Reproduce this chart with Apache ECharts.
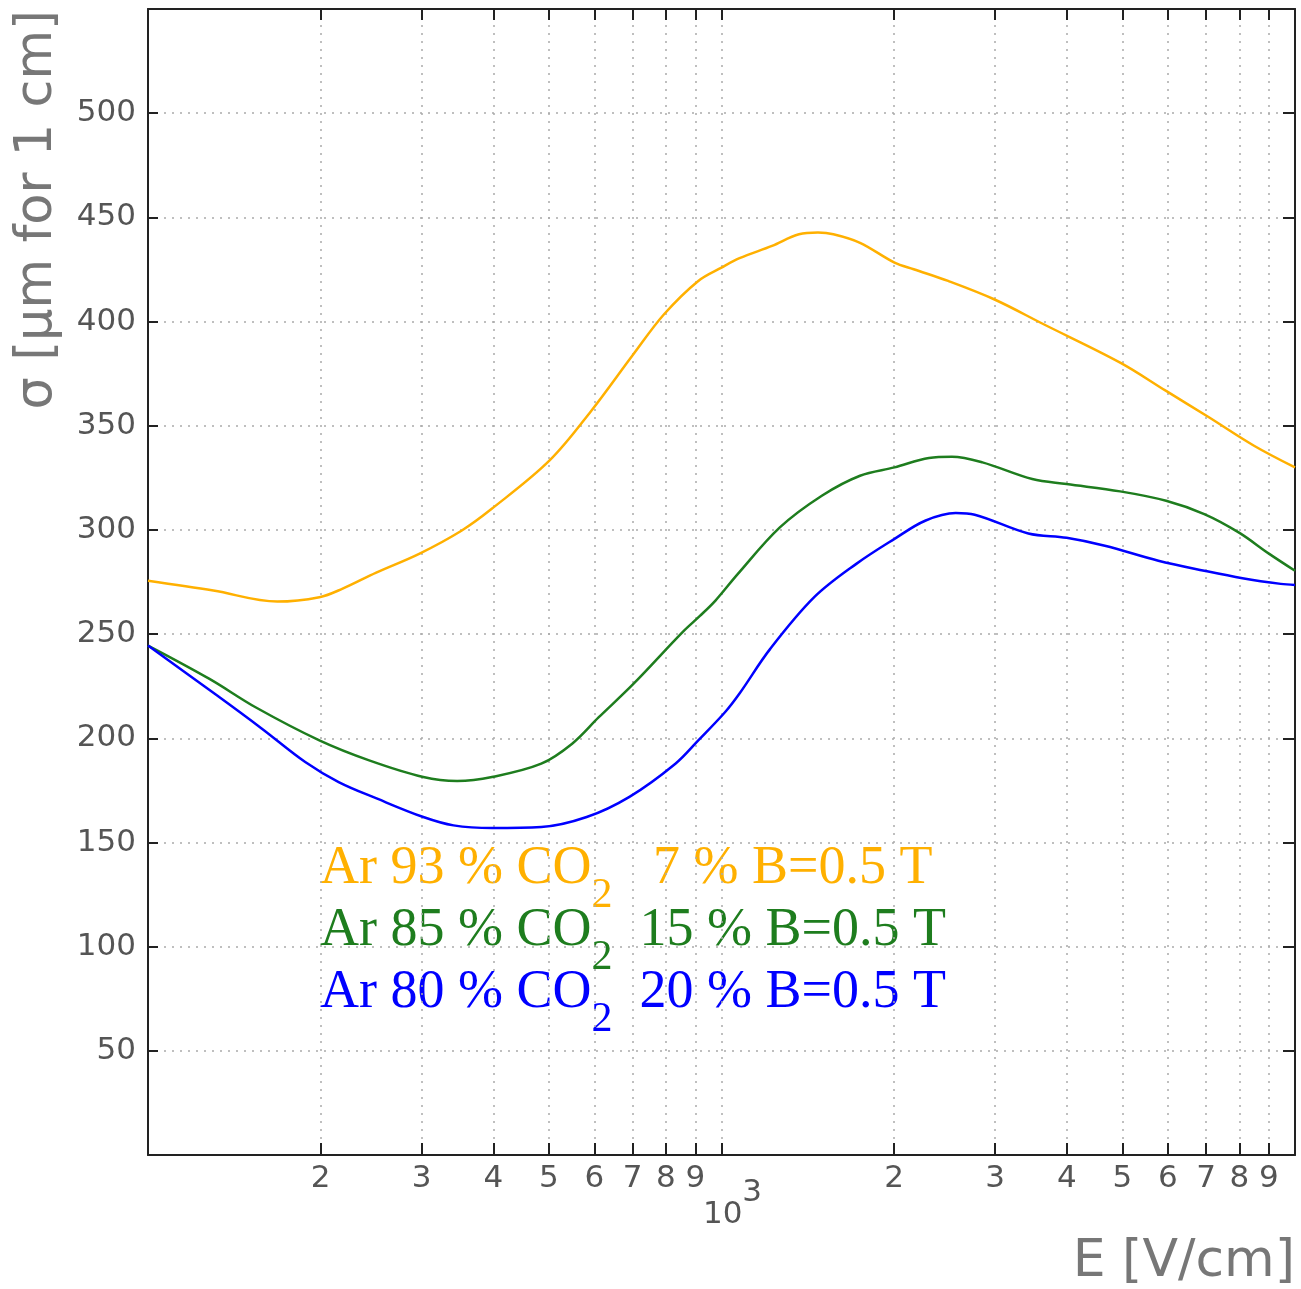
<!DOCTYPE html>
<html>
<head>
<meta charset="utf-8">
<script src="https://cdn.jsdelivr.net/npm/echarts@6/dist/echarts.min.js"></script>
<style>
  html, body { margin: 0; padding: 0; background: #fff; }
  #chart { width: 1301px; height: 1289px; }
</style>
</head>
<body>
<div id="chart"></div>
<script>
// field strength E [V/cm] and sigma [um for 1 cm]
const E_AR93 = [100, 130, 168, 199, 218, 250, 297, 352, 397, 501, 593, 702, 794, 911, 1000, 1075, 1225, 1365, 1473, 1567, 1744, 2003, 2163, 2484, 2987, 3645, 4956, 5960, 7055, 8483, 10000]
const S_AR93 = [275.6, 270.9, 265.6, 267.7, 271.7, 279.5, 288.5, 299.6, 310.0, 333.2, 357.2, 384.3, 403.5, 419.5, 425.9, 430.4, 436.3, 441.9, 442.7, 441.9, 437.8, 428.3, 425.1, 419.5, 410.7, 398.7, 380.3, 366.7, 354.3, 340.4, 330.0]

const E_AR85 = [100, 128, 154, 199, 243, 302, 346, 398, 485, 549, 611, 702, 857, 916, 976, 1068, 1264, 1496, 1744, 2003, 2300, 2522, 2851, 3482, 3997, 4956, 5960, 6947, 7975, 9018, 10000]
const S_AR85 = [244.5, 228.5, 214.9, 199.0, 189.4, 181.4, 179.5, 181.4, 187.8, 197.4, 210.1, 226.1, 251.2, 258.6, 266.1, 278.9, 301.2, 316.4, 326.0, 330.0, 334.5, 335.1, 332.4, 324.4, 322.0, 318.5, 314.0, 307.6, 298.8, 288.5, 280.4]

const E_AR80 = [100, 132, 158, 188, 215, 251, 302, 341, 398, 485, 582, 691, 831, 911, 1014, 1075, 1216, 1451, 1718, 2003, 2265, 2561, 2764, 3428, 3997, 4661, 5777, 6947, 8099, 9443, 10000]
const S_AR80 = [244.5, 220.5, 204.6, 188.6, 179.0, 171.0, 162.2, 158.2, 156.9, 157.4, 162.2, 171.9, 187.8, 199.0, 212.5, 221.5, 242.9, 267.7, 283.7, 295.7, 304.4, 308.1, 307.3, 298.3, 296.2, 292.4, 285.2, 280.4, 276.8, 274.1, 273.6]

const X_TICKS = [200, 300, 400, 500, 600, 700, 800, 900, 1000, 2000, 3000, 4000, 5000, 6000, 7000, 8000, 9000]
const LEGEND_LINES = [
  ['Ar 93 % CO', '2', '   7 % B=0.5 T'],
  ['Ar 85 % CO', '2', '  15 % B=0.5 T'],
  ['Ar 80 % CO', '2', '  20 % B=0.5 T'],
]
const COLORS = ['#ffb000', '#1e7d1e', '#0000ff']

const chart = echarts.init(document.getElementById('chart'), null, { renderer: 'canvas' })

const AXIS_LINE = { show: true, onZero: false, lineStyle: { color: '#222', width: 2 } }
const TICK_STYLE = { color: '#222', width: 2 }
const GRID_LINE = { show: true, lineStyle: { color: '#aaa', type: [2, 6], width: 1.5 } }
const LABEL_FONT = { fontFamily: 'DejaVu Sans', fontSize: 31, color: '#555' }

const zip = (xs, ys) => xs.map((x, i) => [x, ys[i]])

const lineSeries = (name, xs, ys, color) => ({
  name,
  type: 'line',
  data: zip(xs, ys),
  showSymbol: false,
  smooth: 0.35,
  lineStyle: { color, width: 2.5 },
  itemStyle: { color },
  animation: false,
})

const option = {
  backgroundColor: '#fff',
  grid: { left: 148, right: 6, top: 9, bottom: 134, containLabel: false, outerBoundsMode: 'none' },
  xAxis: [
    {
      type: 'log', logBase: 10, min: 100, max: 10000, position: 'bottom',
      axisLine: AXIS_LINE,
      axisTick: { show: true, inside: true, length: 12, customValues: X_TICKS, lineStyle: TICK_STYLE },
      axisLabel: {
        show: true, customValues: X_TICKS, margin: 8, ...LABEL_FONT,
        formatter: v => {
          if (Math.abs(v - 1000) < 1e-6) return '{b|10}{s|3}'
          const p = Math.pow(10, Math.floor(Math.log10(v) + 1e-9))
          return String(Math.round(v / p))
        },
        rich: {
          b: { ...LABEL_FONT, padding: [36, 0, 0, 22], verticalAlign: 'top' },
          s: { ...LABEL_FONT, padding: [14, 0, 0, 0], verticalAlign: 'top' },
        },
      },
      splitLine: GRID_LINE,
    },
    {
      type: 'log', logBase: 10, min: 100, max: 10000, position: 'top',
      axisLine: AXIS_LINE,
      axisTick: { show: true, inside: true, length: 11, customValues: X_TICKS, lineStyle: TICK_STYLE },
      axisLabel: { show: false },
      splitLine: { show: false },
    },
  ],
  yAxis: [
    {
      type: 'value', min: 0, max: 550, interval: 50, position: 'left',
      axisLine: AXIS_LINE,
      axisTick: { show: true, inside: true, length: 10, lineStyle: TICK_STYLE },
      axisLabel: { margin: 12, ...LABEL_FONT, formatter: v => (v === 0 || v === 550 ? '' : String(v)) },
      splitLine: GRID_LINE,
    },
    {
      type: 'value', min: 0, max: 550, interval: 50, position: 'right',
      axisLine: AXIS_LINE,
      axisTick: { show: true, inside: true, length: 12, lineStyle: TICK_STYLE },
      axisLabel: { show: false },
      splitLine: { show: false },
    },
  ],
  series: [
    lineSeries('Ar 93 % CO2 7 %', E_AR93, S_AR93, COLORS[0]),
    lineSeries('Ar 85 % CO2 15 %', E_AR85, S_AR85, COLORS[1]),
    lineSeries('Ar 80 % CO2 20 %', E_AR80, S_AR80, COLORS[2]),
  ],
  graphic: [
    {
      type: 'text', x: 38, y: 10, rotation: Math.PI / 2,
      style: {
        text: 'σ [μm for 1 cm]', align: 'right', verticalAlign: 'middle',
        font: '51px "DejaVu Sans"', fill: '#777',
      },
    },
    {
      type: 'text', x: 1295, y: 1262,
      style: {
        text: 'E [V/cm]', align: 'right', verticalAlign: 'middle',
        font: '52px "DejaVu Sans"', fill: '#777',
      },
    },
    ...LEGEND_LINES.map((parts, i) => ({
      type: 'text', x: 320, y: 842 + i * 62,
      style: {
        text: `{a|${parts[0]}}{s|${parts[1]}}{a|${parts[2]}}`,
        fill: COLORS[i],
        rich: {
          a: { fontFamily: 'Liberation Serif', fontSize: 54, lineHeight: 54, verticalAlign: 'top', fill: COLORS[i] },
          s: { fontFamily: 'Liberation Serif', fontSize: 42, lineHeight: 42, padding: [33, 0, 0, 0], verticalAlign: 'top', fill: COLORS[i] },
        },
      },
    })),
  ],
}

chart.setOption(option)
window.addEventListener('resize', () => chart.resize())
</script>
</body>
</html>
